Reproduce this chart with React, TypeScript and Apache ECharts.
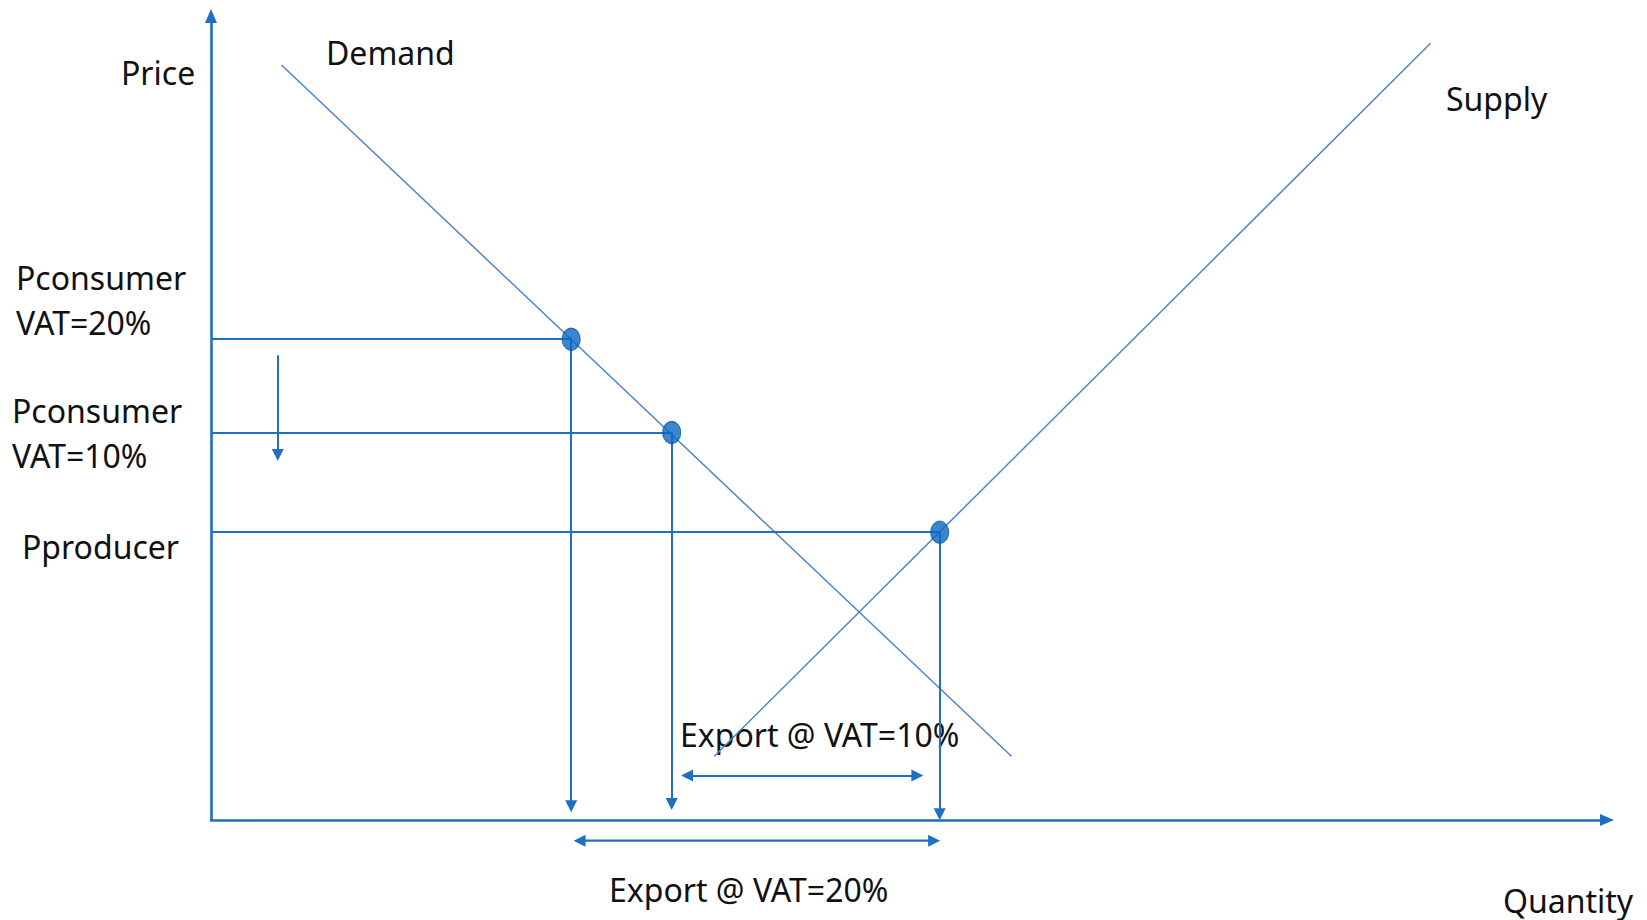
import React, { useEffect, useRef } from "react";
import * as echarts from "echarts";

// Demand and supply curves (quantity, price), arbitrary units 0..100
const demandQ = [5.05, 57.34];
const demandP = [93.9, 7.92];
const supplyQ = [36.05, 87.36];
const supplyP = [7.92, 96.6];

// Market points: consumer price @ VAT=20%, consumer price @ VAT=10%, producer price
const pointQ = [25.8, 33.0, 52.2];
const pointP = [59.8, 48.2, 35.8];
// Where the vertical drop arrows end (price level)
const dropEndP = [1.7, 2.0, 0.7];

// Small "price falls" arrow
const fallQ = 4.78;
const fallP = [57.8, 45.4];

// Export ranges
const export10Q = [34.1, 50.6];
const export10P = 5.53;
const export20Q = [26.4, 51.8];
const export20P = -2.57;

const labels = [
  { text: "Price", x: 121, y: 72 },
  { text: "Demand", x: 326, y: 52 },
  { text: "Supply", x: 1446, y: 98 },
  { text: "Pconsumer", x: 16, y: 277 },
  { text: "VAT=20%", x: 16, y: 322 },
  { text: "Pconsumer", x: 12, y: 410 },
  { text: "VAT=10%", x: 12, y: 455 },
  { text: "Pproducer", x: 22, y: 546 },
  { text: "Export @ VAT=10%", x: 680, y: 734 },
  { text: "Export @ VAT=20%", x: 609, y: 889 },
  { text: "Quantity", x: 1503, y: 900 },
];

const AXIS = "#1E6FC2";
const CURVE = "#4F85C7";
const GUIDE = "#1F70C3";

export default function App() {
  const ref = useRef<HTMLDivElement>(null);
  useEffect(() => {
    document.body.style.margin = "0";
    if (!ref.current) return;
    const chart = echarts.init(ref.current, null, { renderer: "svg" });

    const seg = (q1: number, p1: number, q2: number, p2: number, sym: string[], color: string, width: number) => [
      {
        coord: [q1, p1],
        symbol: sym[0],
        lineStyle: { color, width, type: "solid" },
      },
      { coord: [q2, p2], symbol: sym[1] },
    ];

    const markData: any[] = [];
    for (let i = 0; i < pointQ.length; i++) {
      markData.push(seg(0, pointP[i], pointQ[i], pointP[i], ["none", "none"], GUIDE, 1.8));
    }
    for (let i = 0; i < pointQ.length; i++) {
      markData.push(seg(pointQ[i], pointP[i], pointQ[i], dropEndP[i], ["none", "triangle"], GUIDE, 2));
    }
    markData.push(seg(fallQ, fallP[0], fallQ, fallP[1], ["none", "triangle"], GUIDE, 2));
    markData.push(seg(export10Q[0], export10P, export10Q[1], export10P, ["triangle", "triangle"], GUIDE, 2.2));

    const axisCommon = {
      type: "value" as const,
      min: 0,
      max: 100,
      axisTick: { show: false },
      axisLabel: { show: false },
      splitLine: { show: false },
      axisLine: {
        show: true,
        symbol: ["none", "triangle"],
        symbolSize: [12, 14],
        lineStyle: { color: AXIS, width: 2.6 },
      },
    };

    chart.setOption({
      animation: false,
      backgroundColor: "#ffffff",
      grid: { left: 211, right: 40, top: 16, bottom: 100 },
      xAxis: { ...axisCommon },
      yAxis: { ...axisCommon },
      series: [
        {
          type: "line",
          name: "Demand",
          data: demandQ.map((q, i) => [q, demandP[i]]),
          symbol: "none",
          clip: false,
          silent: true,
          lineStyle: { color: CURVE, width: 1.5 },
          z: 2,
        },
        {
          type: "line",
          name: "Supply",
          data: supplyQ.map((q, i) => [q, supplyP[i]]),
          symbol: "none",
          clip: false,
          silent: true,
          lineStyle: { color: CURVE, width: 1.5 },
          z: 2,
        },
        {
          type: "line",
          name: "guides",
          data: [],
          clip: false,
          silent: true,
          markLine: {
            silent: true,
            animation: false,
            symbolSize: 12,
            label: { show: false },
            emphasis: { disabled: true },
            lineStyle: { type: "solid" },
            itemStyle: { color: GUIDE },
            data: markData,
          },
          z: 3,
        },
        {
          type: "line",
          name: "Export @ VAT=20%",
          data: [
            { value: [export20Q[0], export20P], symbolRotate: 90 },
            { value: [export20Q[1], export20P], symbolRotate: -90 },
          ],
          symbol: "triangle",
          symbolSize: 12,
          showSymbol: true,
          showAllSymbol: true,
          clip: false,
          silent: true,
          lineStyle: { color: GUIDE, width: 2.2 },
          itemStyle: { color: GUIDE },
          z: 3,
        },
        {
          type: "scatter",
          name: "points",
          data: pointQ.map((q, i) => [q, pointP[i]]),
          symbol: "circle",
          symbolSize: [18, 22],
          clip: false,
          silent: true,
          itemStyle: { color: "#0B67C3", borderColor: "#0A4E97", borderWidth: 1 },
          z: 5,
        },
      ],
      graphic: labels.map((l) => ({
        type: "text",
        x: l.x,
        y: l.y,
        silent: true,
        style: {
          text: l.text,
          fill: "#111111",
          fontSize: 32,
          fontFamily: "Noto Sans",
          align: "left",
          verticalAlign: "middle",
          textAlign: "left",
          textVerticalAlign: "middle",
        },
      })),
    });

    return () => chart.dispose();
  }, []);

  return (
    <div
      ref={ref}
      style={{ position: "absolute", left: 0, top: 0, width: 1647, height: 920 }}
    />
  );
}
